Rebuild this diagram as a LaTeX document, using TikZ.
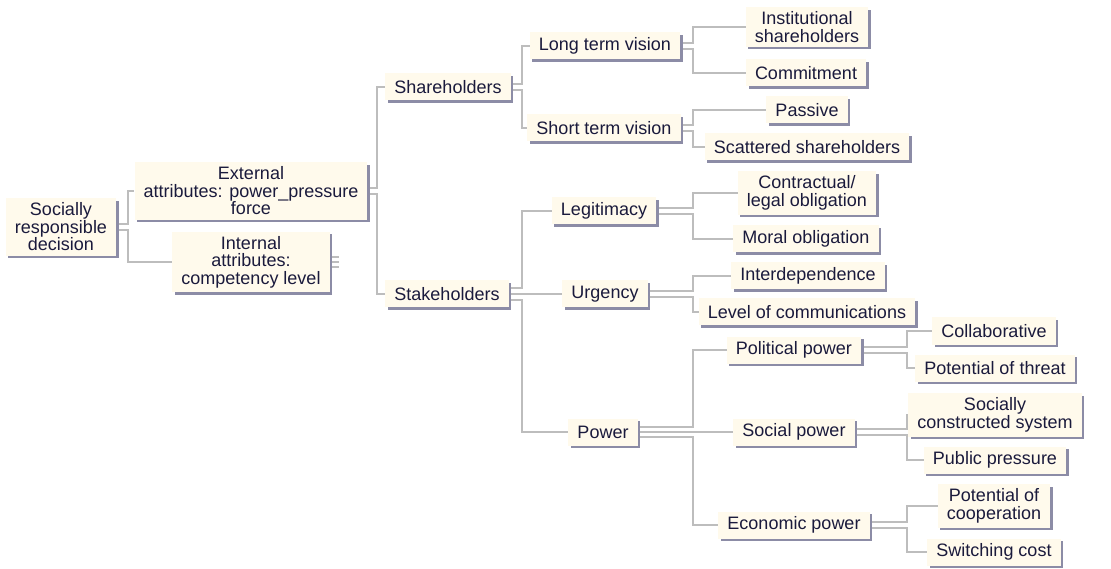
\documentclass[tikz,border=0pt]{standalone}
\usepackage{fontspec}
\setmainfont{Liberation Sans}
\usetikzlibrary{shadows,backgrounds}

\definecolor{boxfill}{HTML}{FFFAEC}
\definecolor{boxshade}{HTML}{8C8CA6}
\definecolor{linkgray}{HTML}{BDBDBD}
\definecolor{inkblue}{HTML}{1A1A3C}

\tikzset{
  item/.style={fill=boxfill, text=inkblue, font=\fontsize{18}{17.5}\selectfont,
    align=center, inner xsep=9pt, inner ysep=4.5pt, minimum height=27pt,
    general shadow={fill=boxshade, shadow xshift=2.5pt, shadow yshift=-2.5pt}},
  link/.style={draw=linkgray, line width=1.2pt},
}

\begin{document}
\begin{tikzpicture}[x=1pt, y=-1pt]
            \useasboundingbox (0,0) rectangle (1111,569);

            % columns of the elbows
            \coordinate (c1) at (128, 0);
            \coordinate (c2) at (377, 0);
            \coordinate (c3) at (522, 0);
            \coordinate (c4) at (693, 0);
            \coordinate (c5) at (907, 0);

            \node[item] (srd) at (61, 227) {Socially\\responsible\\decision};
            \node[item] (ext) at (251, 191) {External\\attributes: power\_pressure\\force};
            \node[item] (int) at (251, 262) {Internal\\attributes:\\competency level};

            \node[item] (shr) at (448, 87) {Shareholders};
            \node[item] (stk) at (447, 294) {Stakeholders};

            \node[item] (ltv) at (605, 46) {Long term vision};
            \node[item] (stv) at (604, 128) {Short term vision};
            \node[item] (leg) at (604, 211) {Legitimacy};
            \node[item] (urg) at (605, 294) {Urgency};
            \node[item] (pow) at (603, 432) {Power};

            \node[item] (ins) at (807, 27) {Institutional\\shareholders};
            \node[item] (com) at (806, 73) {Commitment};
            \node[item] (pas) at (807, 110) {Passive};
            \node[item] (sca) at (807, 147) {Scattered shareholders};
            \node[item] (con) at (807, 193) {Contractual/\\legal obligation};
            \node[item] (mor) at (806, 239) {Moral obligation};
            \node[item] (itd) at (808, 276) {Interdependence};
            \node[item] (lvl) at (807, 312) {Level of communications};

            \node[item] (pol) at (794, 350) {Political power};
            \node[item] (soc) at (794, 432) {Social power};
            \node[item] (eco) at (794, 525) {Economic power};

            \node[item] (col) at (994, 331) {Collaborative};
            \node[item] (thr) at (995, 368) {Potential of threat};
            \node[item] (scs) at (995, 415) {Socially\\constructed system};
            \node[item] (pub) at (995, 460) {Public pressure};
            \node[item] (coo) at (994, 506) {Potential of\\cooperation};
            \node[item] (swc) at (994, 552) {Switching cost};

            \begin{pgfonlayer}{background}
            \draw[link] ([yshift=3pt]srd.east) -- ([yshift=3pt]srd.east -| c1) |- (ext.west);
            \draw[link] ([yshift=-3pt]srd.east) -- ([yshift=-3pt]srd.east -| c1) |- (int.west);

            \draw[link] ([yshift=3pt]ext.east) -- ([yshift=3pt]ext.east -| c2) |- (shr.west);
            \draw[link] ([yshift=-3pt]ext.east) -- ([yshift=-3pt]ext.east -| c2) |- (stk.west);

            \foreach \dy in {-5, 0, 5}
              \draw[link] ([yshift=\dy pt]int.east) -- ++(9pt, 0);

            \draw[link] ([yshift=3pt]shr.east) -- ([yshift=3pt]shr.east -| c3) |- (ltv.west);
            \draw[link] ([yshift=-3pt]shr.east) -- ([yshift=-3pt]shr.east -| c3) |- (stv.west);

            \draw[link] ([yshift=6pt]stk.east) -- ([yshift=6pt]stk.east -| c3) |- (leg.west);
            \draw[link] (stk.east) -- (urg.west);
            \draw[link] ([yshift=-6pt]stk.east) -- ([yshift=-6pt]stk.east -| c3) |- (pow.west);

            \draw[link] ([yshift=3pt]ltv.east) -- ([yshift=3pt]ltv.east -| c4) |- (ins.west);
            \draw[link] ([yshift=-3pt]ltv.east) -- ([yshift=-3pt]ltv.east -| c4) |- (com.west);
            \draw[link] ([yshift=3pt]stv.east) -- ([yshift=3pt]stv.east -| c4) |- (pas.west);
            \draw[link] ([yshift=-3pt]stv.east) -- ([yshift=-3pt]stv.east -| c4) |- (sca.west);
            \draw[link] ([yshift=3pt]leg.east) -- ([yshift=3pt]leg.east -| c4) |- (con.west);
            \draw[link] ([yshift=-3pt]leg.east) -- ([yshift=-3pt]leg.east -| c4) |- (mor.west);
            \draw[link] ([yshift=3pt]urg.east) -- ([yshift=3pt]urg.east -| c4) |- (itd.west);
            \draw[link] ([yshift=-3pt]urg.east) -- ([yshift=-3pt]urg.east -| c4) |- (lvl.west);

            \draw[link] ([yshift=5pt]pow.east) -- ([yshift=5pt]pow.east -| c4) |- (pol.west);
            \draw[link] (pow.east) -- (soc.west);
            \draw[link] ([yshift=-5pt]pow.east) -- ([yshift=-5pt]pow.east -| c4) |- (eco.west);

            \draw[link] ([yshift=3pt]pol.east) -- ([yshift=3pt]pol.east -| c5) |- (col.west);
            \draw[link] ([yshift=-3pt]pol.east) -- ([yshift=-3pt]pol.east -| c5) |- (thr.west);
            \draw[link] ([yshift=3pt]soc.east) -- ([yshift=3pt]soc.east -| c5) |- (scs.west);
            \draw[link] ([yshift=-3pt]soc.east) -- ([yshift=-3pt]soc.east -| c5) |- (pub.west);
            \draw[link] ([yshift=3pt]eco.east) -- ([yshift=3pt]eco.east -| c5) |- (coo.west);
            \draw[link] ([yshift=-3pt]eco.east) -- ([yshift=-3pt]eco.east -| c5) |- (swc.west);
            \end{pgfonlayer}
        \end{tikzpicture}
\end{document}
